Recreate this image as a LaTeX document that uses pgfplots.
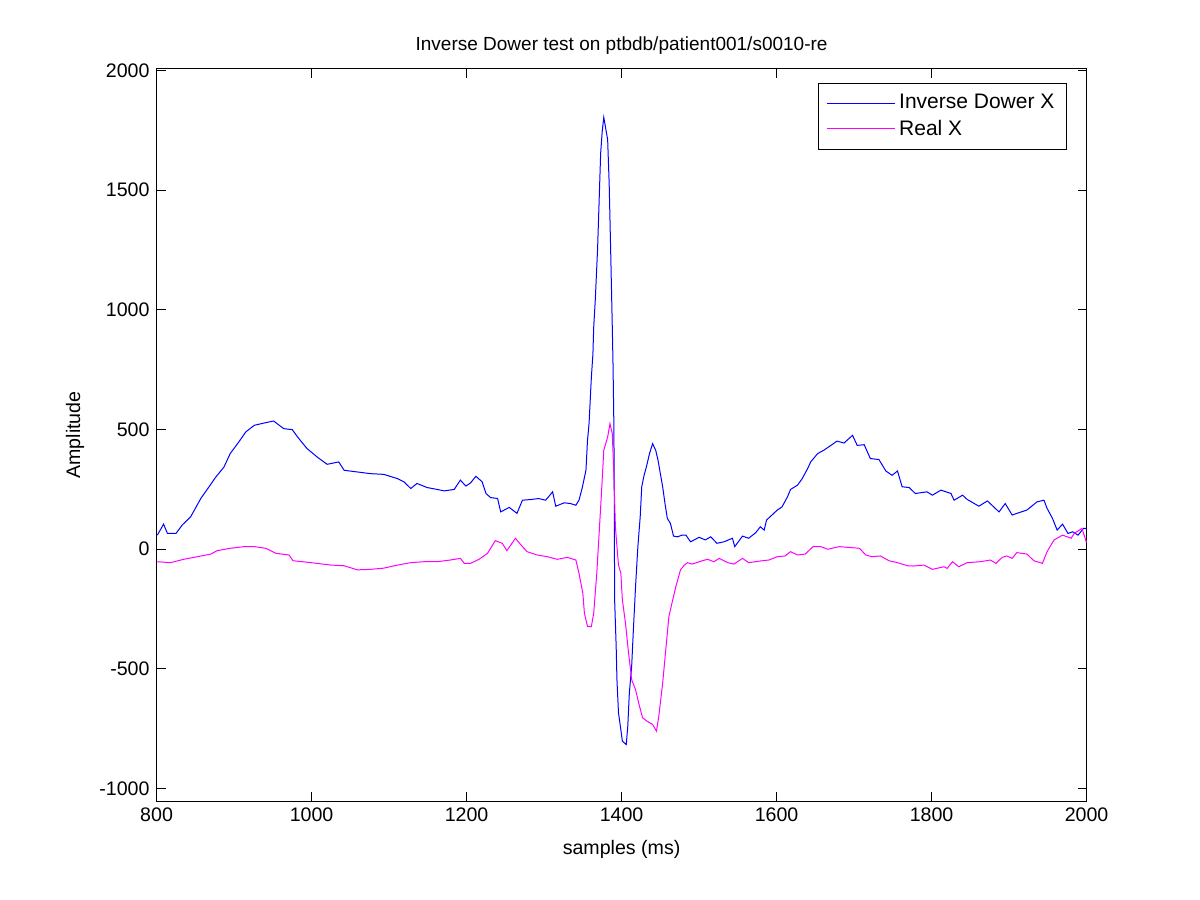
\documentclass[border=0pt]{standalone}
\usepackage{pgfplots}
\pgfplotsset{compat=1.18}
\usepackage{fontspec}
\setmainfont{Liberation Sans}
\definecolor{mblue}{RGB}{0,0,255}
\definecolor{mmag}{RGB}{255,0,255}
\begin{document}
\begin{tikzpicture}
\begin{axis}[
  scale only axis,
  width=465pt, height=366pt,
  xmin=800, xmax=2000,
  ymin=-1053, ymax=2006,
  xtick={800,1000,1200,1400,1600,1800,2000},
  ytick={-1000,-500,0,500,1000,1500,2000},
  tick align=inside,
  major tick length=4.5pt,
  xtick pos=both, ytick pos=both,
  minor tick num=0,
  axis line style={line width=0.5pt},
  every tick/.style={line width=0.5pt, black},
  /pgf/number format/assume math mode=true,
  /pgf/number format/1000 sep={},
  tick label style={font=\fontsize{9.8}{11}\selectfont},
  label style={font=\fontsize{9.8}{11}\selectfont},
  title style={font=\fontsize{9.5}{11}\selectfont, at={(axis description cs:0.5,1.015)}, anchor=center},
  title={Inverse Dower test on ptbdb/patient001/s0010-re},
  xlabel={samples (ms)},
  ylabel={Amplitude},
  xlabel style={at={(axis description cs:0.5,-0.0656)}, anchor=center},
  ylabel style={at={(axis description cs:-0.0878,0.5)}, anchor=center},
  legend style={at={(axis description cs:0.9788,0.981)}, anchor=north east,
    draw=black, line width=0.5pt, font=\fontsize{10.5}{12}\selectfont,
    inner xsep=4pt, inner ysep=3.5pt, row sep=0pt,
    cells={anchor=west}},
  legend image code/.code={\draw[#1] (0pt,0pt) -- (34pt,0pt);},
]
\addplot[color=mblue, draw=mblue, line width=0.5pt] coordinates {
(801,58)(809,104)(814,65)(825,65)(833,100)(844,135)(857,211)(867,257)(876,299)(887,343)(895,399)(906,447)(915,489)(926,517)(938,526)(951,535)(964,503)(975,499)(982,468)(994,420)(1007,385)(1020,354)(1035,364)(1042,329)(1059,322)(1076,315)(1093,312)(1111,294)(1119,281)(1128,253)(1136,274)(1149,257)(1162,249)(1171,243)(1184,249)(1192,288)(1199,263)(1205,276)(1212,304)(1220,281)(1225,232)(1231,215)(1240,211)(1244,155)(1255,174)(1265,149)(1272,204)(1283,207)(1293,211)(1302,204)(1311,239)(1315,179)(1326,193)(1334,190)(1341,183)(1345,204)(1349,253)(1354,329)(1356,454)(1358,524)(1361,718)(1363,815)(1364,926)(1366,1038)(1369,1253)(1371,1454)(1373,1655)(1375,1746)(1377,1804)(1379,1767)(1382,1711)(1384,1524)(1386,1232)(1388,926)(1389,760)(1390,524)(1390.5,260)(1391,-212)(1393,-407)(1394,-546)(1396,-685)(1399,-754)(1401,-803)(1406,-817)(1408,-740)(1410,-601)(1413,-490)(1415,-351)(1418,-157)(1421,10)(1424,135)(1426,260)(1429,308)(1432,343)(1436,399)(1440,440)(1444,413)(1447,371)(1450,315)(1453,260)(1456,190)(1459,128)(1463,107)(1467,54)(1472,51)(1478,58)(1483,58)(1489,30)(1500,49)(1508,38)(1515,51)(1523,24)(1532,30)(1543,45)(1546,10)(1556,54)(1564,45)(1573,68)(1579,93)(1584,79)(1587,121)(1594,142)(1601,163)(1607,176)(1614,218)(1618,249)(1627,267)(1633,294)(1640,336)(1644,364)(1653,399)(1661,413)(1670,433)(1678,451)(1687,443)(1698,475)(1704,433)(1713,436)(1721,378)(1732,374)(1741,326)(1749,308)(1756,326)(1762,260)(1771,257)(1779,232)(1794,239)(1801,225)(1812,246)(1825,232)(1829,204)(1840,225)(1846,207)(1861,179)(1872,201)(1887,155)(1895,190)(1904,142)(1910,149)(1923,163)(1936,197)(1945,204)(1949,170)(1956,128)(1962,79)(1969,104)(1976,65)(1982,72)(1989,58)(1996,86)(2000,86)
};
\addlegendentry{Inverse Dower X}
\addplot[color=mmag, draw=mmag, line width=0.5pt] coordinates {
(801,-53)(818,-57)(835,-43)(853,-32)(870,-21)(878,-7)(895,3)(913,10)(926,10)(941,3)(954,-18)(971,-25)(976,-49)(994,-55)(1007,-60)(1025,-67)(1042,-70)(1059,-87)(1076,-85)(1093,-80)(1111,-67)(1128,-57)(1145,-53)(1162,-53)(1179,-46)(1192,-39)(1197,-60)(1205,-60)(1216,-43)(1227,-18)(1237,35)(1246,24)(1252,-7)(1263,45)(1272,10)(1278,-11)(1291,-25)(1304,-32)(1317,-43)(1330,-35)(1341,-46)(1345,-101)(1350,-185)(1352,-268)(1356,-324)(1361,-324)(1364,-268)(1368,-101)(1371,65)(1374,232)(1377,413)(1382,468)(1385,524)(1388,482)(1390,315)(1392,93)(1394,10)(1396,-67)(1399,-101)(1401,-212)(1405,-310)(1409,-435)(1413,-546)(1418,-588)(1422,-643)(1427,-705)(1433,-720)(1440,-733)(1445,-761)(1448,-699)(1453,-560)(1457,-421)(1461,-282)(1466,-212)(1470,-157)(1476,-87)(1481,-67)(1485,-57)(1491,-63)(1504,-49)(1511,-43)(1519,-53)(1526,-39)(1537,-57)(1545,-63)(1556,-39)(1564,-57)(1579,-50)(1590,-46)(1601,-32)(1611,-29)(1618,-11)(1627,-25)(1637,-21)(1647,10)(1657,10)(1666,-1)(1681,10)(1692,7)(1707,3)(1715,-25)(1723,-32)(1734,-29)(1745,-49)(1756,-57)(1769,-70)(1777,-71)(1790,-67)(1801,-85)(1816,-74)(1820,-81)(1827,-53)(1835,-74)(1846,-57)(1863,-53)(1876,-46)(1883,-60)(1891,-35)(1897,-29)(1904,-39)(1910,-15)(1923,-21)(1932,-49)(1943,-60)(1949,-11)(1958,38)(1969,58)(1980,45)(1984,65)(1994,86)(2000,26)
};
\addlegendentry{Real X}
\end{axis}
\pgfresetboundingbox
\path (current axis.south west) ++(-78.3pt,-49.5pt) rectangle ++(600pt,450pt);
\end{tikzpicture}
\end{document}
